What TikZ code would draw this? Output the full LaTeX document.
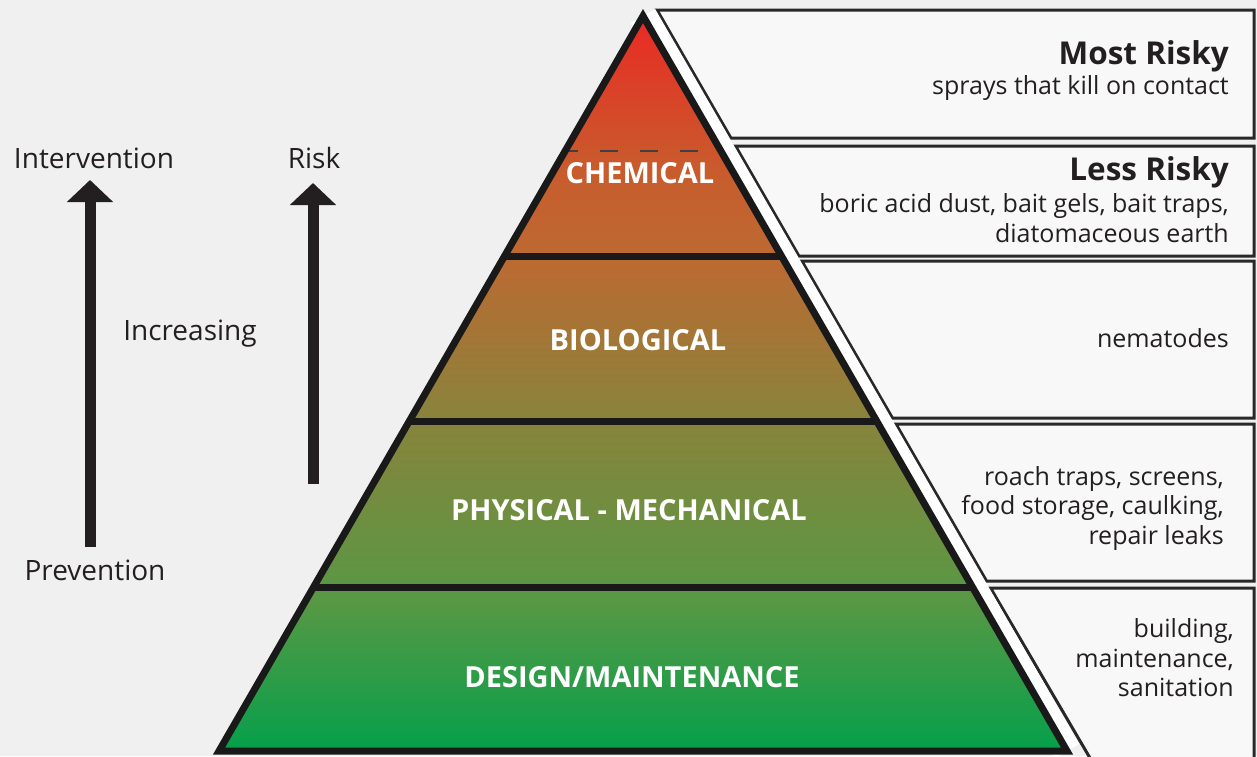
\documentclass[tikz,border=0pt]{standalone}
\usepackage{fontspec}
\setmainfont{Open Sans}
\usetikzlibrary{arrows.meta}

\definecolor{bgcol}{RGB}{240,240,240}
\definecolor{boxfill}{RGB}{248,248,248}
\definecolor{ink}{RGB}{35,31,32}
\definecolor{edgecol}{RGB}{40,40,40}
\definecolor{tierA}{RGB}{0,160,75}
\definecolor{tierB}{RGB}{88,152,68}
\definecolor{tierC}{RGB}{135,132,60}
\definecolor{tierD}{RGB}{188,106,50}
\definecolor{tierE}{RGB}{200,92,45}
\definecolor{tierF}{RGB}{235,40,35}

\pgfdeclareverticalshading{pyramidfill}{100bp}{color(0bp)=(tierA); color(25bp)=(tierA);
  color(35.7bp)=(tierB); color(47.4bp)=(tierC); color(58.4bp)=(tierD);
  color(64.2bp)=(tierE); color(75bp)=(tierF); color(100bp)=(tierF)}

\tikzset{
  tierlabel/.style={text=white, font=\fontsize{29}{33}\selectfont\bfseries, inner sep=0pt},
  riskhead/.style={text=ink, font=\fontsize{31.5}{35}\selectfont\bfseries, inner sep=0pt, anchor=east},
  risktext/.style={text=ink, font=\fontsize{25}{29.5}\selectfont, inner sep=0pt, anchor=east, align=right},
  sidelabel/.style={text=ink, font=\fontsize{28}{32}\selectfont, inner sep=0pt},
  sidebox/.style={draw=edgecol, fill=boxfill, line width=3pt, line join=miter},
  tierline/.style={draw=black!90, line width=7pt},
  bigarrow/.style={draw=ink, line width=11pt, -{Triangle[length=22pt,width=45pt]}}
}

\begin{document}
\begin{tikzpicture}[x=1pt, y=-1pt]
\useasboundingbox (0,0) rectangle (1257,756);
% Background
\fill[bgcol] (0,0) rectangle (1257,756);

% Boxes on the right
\path[sidebox] (657,10) -- (1254,10) -- (1254,138) -- (730.9,138) -- cycle;
\path[sidebox] (735.5,146) -- (1254,146) -- (1254,256) -- (798.9,256) -- cycle;
\path[sidebox] (801.8,261) -- (1254,261) -- (1254,418) -- (892.4,418) -- cycle;
\path[sidebox] (895.9,424) -- (1254,424) -- (1254,581) -- (986.5,581) -- cycle;
\path[sidebox] (990.5,588) -- (1254,588) -- (1254,770) -- (1097.0,770) -- cycle;

% White gap beside the pyramid
\draw[white, line width=28pt] (643,16) -- (1067,751);

% Pyramid
\begin{scope}
  \clip (643,16) -- (1067,751) -- (219,751) -- cycle;
  \shade[shading=pyramidfill] (200,10) rectangle (1090,760);
  \draw[black!75, line width=1.5pt, dash pattern=on 18pt off 22pt] (560,151) -- (730,151);
  \draw[tierline] (200,256) -- (1090,256);
  \draw[tierline] (200,421) -- (1090,421);
  \draw[tierline] (200,587) -- (1090,587);
\end{scope}
\draw[black!90, line width=7pt, line join=miter] (643,16) -- (1067,751) -- (219,751) -- cycle;

% Tier names
\node[tierlabel] (chemical) at (640,173) {CHEMICAL};
\node[tierlabel] (biological) at (638,340) {BIOLOGICAL};
\node[tierlabel] (physical) at (629,510) {PHYSICAL - MECHANICAL};
\node[tierlabel] (design) at (632,677) {DESIGN/MAINTENANCE};

% Texts in the boxes
\node[riskhead] (mosthead) at (1229,56) {Most Risky};
\node[risktext] (mosttext) at (1229,88) {sprays that kill on contact};
\node[riskhead] (lesshead) at (1229,172) {Less Risky};
\node[risktext] (lesstext) at (1229,218) {boric acid dust, bait gels, bait traps,\\diatomaceous earth};
\node[risktext] (biotext) at (1229,338) {nematodes};
\node[risktext] (phystext) at (1224,508) {roach traps, screens,\\food storage, caulking,\\repair leaks};
\node[risktext] (designtext) at (1234,658) {building,\\maintenance,\\sanitation};

% Left side
\node[sidelabel] (intervention) at (94,158) {Intervention};
\node[sidelabel] (risk) at (314,158) {Risk};
\node[sidelabel] (increasing) at (190,334) {Increasing};
\node[sidelabel] (prevention) at (95,570) {Prevention};
\coordinate (intbottom) at (90,547);
\coordinate (inttop) at (90,180);
\coordinate (riskbottom) at (313,484);
\coordinate (risktop) at (313,183);
\draw[bigarrow] (intbottom) -- (inttop);
\draw[bigarrow] (riskbottom) -- (risktop);
\end{tikzpicture}
\end{document}
